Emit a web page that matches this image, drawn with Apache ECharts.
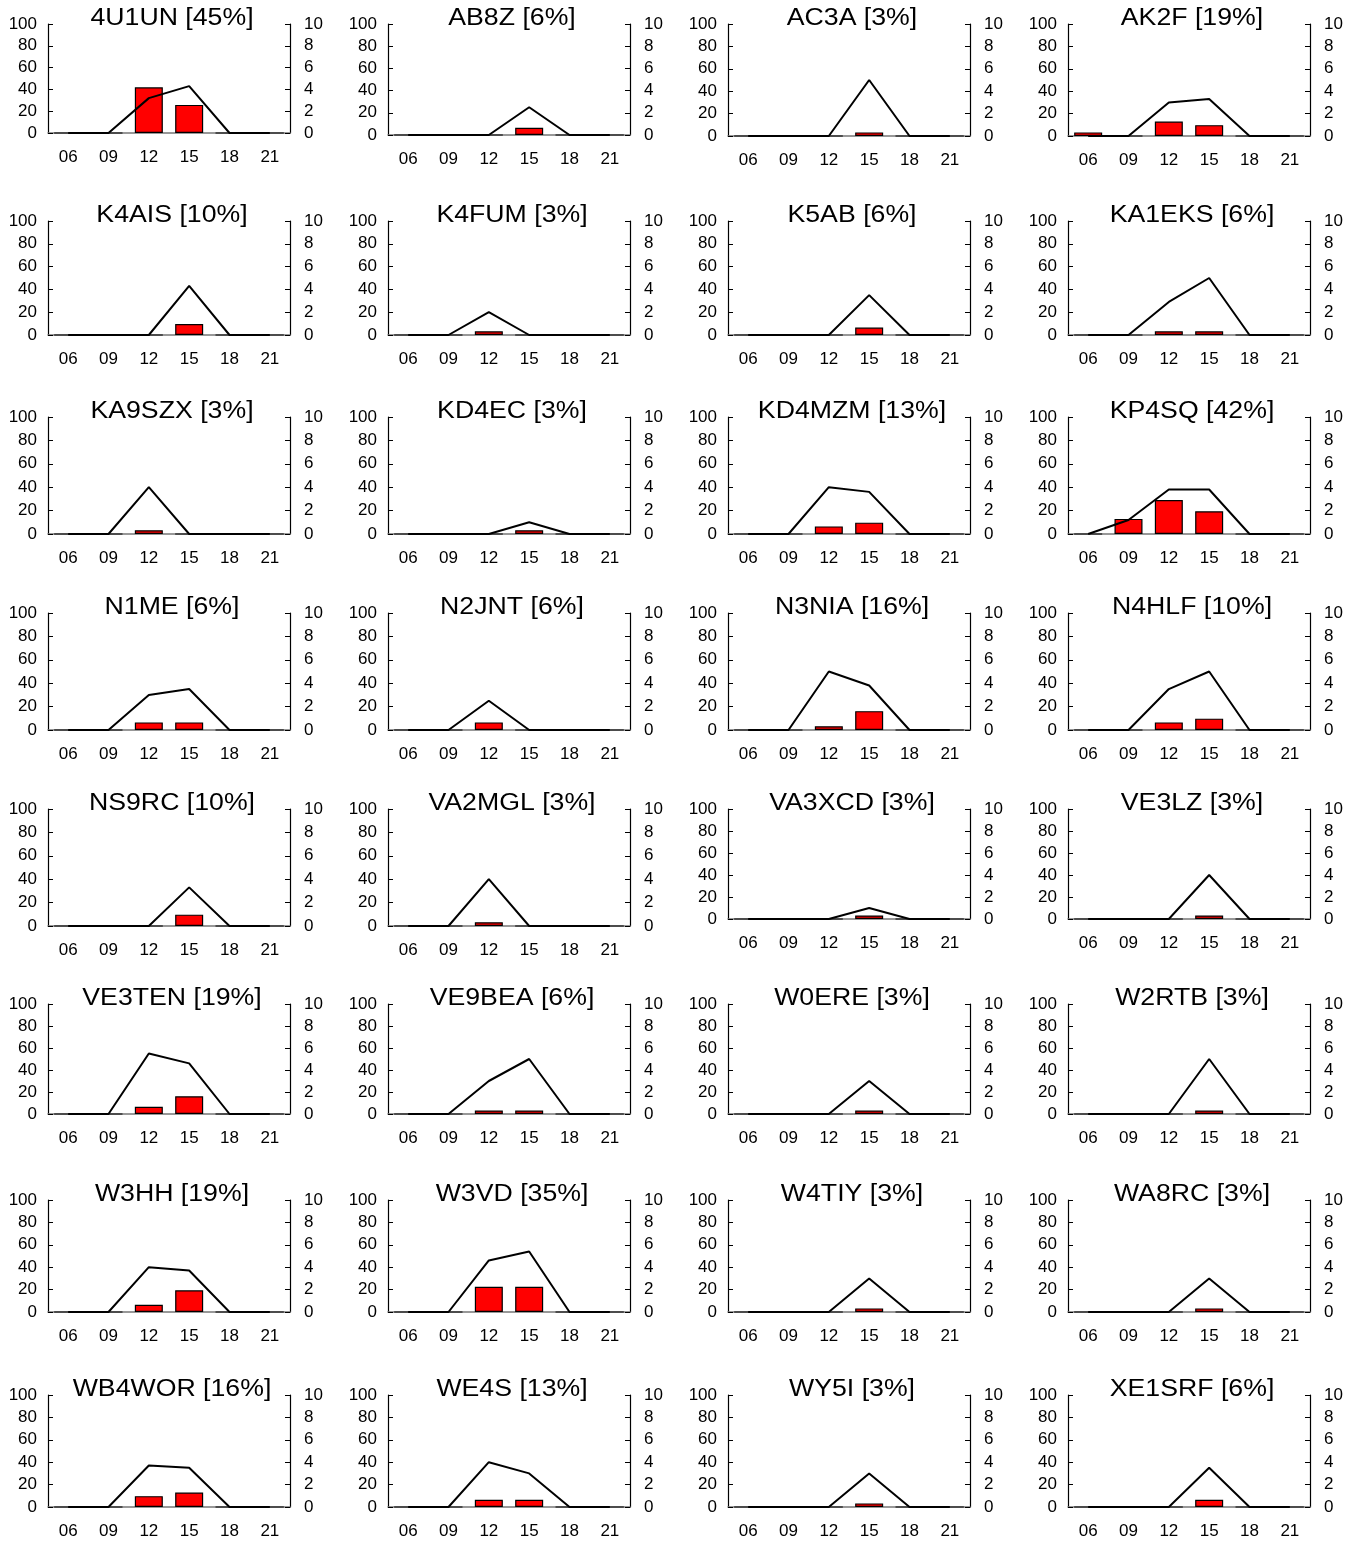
<!DOCTYPE html>
<html>
<head>
<meta charset="utf-8">
<script src="https://cdn.jsdelivr.net/npm/echarts@6/dist/echarts.min.js"></script>
<style>
html,body{margin:0;padding:0;background:#fff;}
#main{width:1361px;height:1542px;}
</style>
</head>
<body>
<div id="main"></div>
<script>
// ---- data ----
const hours = ['06', '09', '12', '15', '18', '21'];
const calls = ['4U1UN', 'AB8Z', 'AC3A', 'AK2F',
  'K4AIS', 'K4FUM', 'K5AB', 'KA1EKS',
  'KA9SZX', 'KD4EC', 'KD4MZM', 'KP4SQ',
  'N1ME', 'N2JNT', 'N3NIA', 'N4HLF',
  'NS9RC', 'VA2MGL', 'VA3XCD', 'VE3LZ',
  'VE3TEN', 'VE9BEA', 'W0ERE', 'W2RTB',
  'W3HH', 'W3VD', 'W4TIY', 'WA8RC',
  'WB4WOR', 'WE4S', 'WY5I', 'XE1SRF'];
const shares = ['45%', '6%', '3%', '19%',
  '10%', '3%', '6%', '6%',
  '3%', '3%', '13%', '42%',
  '6%', '6%', '16%', '10%',
  '10%', '3%', '3%', '3%',
  '19%', '6%', '3%', '3%',
  '19%', '35%', '3%', '3%',
  '16%', '13%', '3%', '6%'];
// red bars (left scale)
const barValues = [
  [0, 0, 41.9, 25.8, 0, 0], [0, 0, 0, 6.5, 0, 0], [0, 0, 0, 3.2, 0, 0], [3.2, 0, 12.9, 9.7, 0, 0],
  [0, 0, 0, 9.7, 0, 0], [0, 0, 3.2, 0, 0, 0], [0, 0, 0, 6.5, 0, 0], [0, 0, 3.2, 3.2, 0, 0],
  [0, 0, 3.2, 0, 0, 0], [0, 0, 0, 3.2, 0, 0], [0, 0, 6.5, 9.7, 0, 0], [0, 12.9, 29.0, 19.4, 0, 0],
  [0, 0, 6.5, 6.5, 0, 0], [0, 0, 6.5, 0, 0, 0], [0, 0, 3.2, 16.1, 0, 0], [0, 0, 6.5, 9.7, 0, 0],
  [0, 0, 0, 9.7, 0, 0], [0, 0, 3.2, 0, 0, 0], [0, 0, 0, 3.2, 0, 0], [0, 0, 0, 3.2, 0, 0],
  [0, 0, 6.5, 16.1, 0, 0], [0, 0, 3.2, 3.2, 0, 0], [0, 0, 0, 3.2, 0, 0], [0, 0, 0, 3.2, 0, 0],
  [0, 0, 6.5, 19.4, 0, 0], [0, 0, 22.6, 22.6, 0, 0], [0, 0, 0, 3.2, 0, 0], [0, 0, 0, 3.2, 0, 0],
  [0, 0, 9.7, 12.9, 0, 0], [0, 0, 6.5, 6.5, 0, 0], [0, 0, 0, 3.2, 0, 0], [0, 0, 0, 6.5, 0, 0]
];
// black line (left scale)
const lineValues = [
  [0, 0, 32, 43, 0, 0], [0, 0, 0, 25, 0, 0], [0, 0, 0, 50, 0, 0], [0, 0, 30, 33, 0, 0],
  [0, 0, 0, 43, 0, 0], [0, 0, 20, 0, 0, 0], [0, 0, 0, 35, 0, 0], [0, 0, 29, 50, 0, 0],
  [0, 0, 40, 0, 0, 0], [0, 0, 0, 10, 0, 0], [0, 0, 40, 36, 0, 0], [0, 12, 38, 38, 0, 0],
  [0, 0, 30, 35, 0, 0], [0, 0, 25, 0, 0, 0], [0, 0, 50, 38, 0, 0], [0, 0, 35, 50, 0, 0],
  [0, 0, 0, 33, 0, 0], [0, 0, 40, 0, 0, 0], [0, 0, 0, 10, 0, 0], [0, 0, 0, 40, 0, 0],
  [0, 0, 55, 46, 0, 0], [0, 0, 30, 50, 0, 0], [0, 0, 0, 30, 0, 0], [0, 0, 0, 50, 0, 0],
  [0, 0, 40, 37, 0, 0], [0, 0, 46, 54, 0, 0], [0, 0, 0, 30, 0, 0], [0, 0, 0, 30, 0, 0],
  [0, 0, 37, 35, 0, 0], [0, 0, 40, 30, 0, 0], [0, 0, 0, 30, 0, 0], [0, 0, 0, 35, 0, 0]
];
const leftAxisMax = 100, leftAxisStep = 20;
const rightAxisMax = 10, rightAxisStep = 2;

// ---- layout ----
const colLeft = [48, 388, 728, 1068];
const plotWidth = 242;
const rowTop = [24, 221, 417, 613, 809, 1004, 1200, 1395];
const rowBottom = [134, 335, 534, 730, 926, 1114, 1312, 1507];
const FONT = '"Liberation Sans", Arial, Helvetica, sans-serif';

const grids = [], xAxes = [], yAxes = [], series = [], graphics = [];
for (let i = 0; i < calls.length; i++) {
  const r = Math.floor(i / 4), c = i % 4;
  let bottom = rowBottom[r];
  if (r === 4 && c >= 2) bottom = 919;
  if (r === 0) bottom = [133, 135, 136, 136][c];
  const top = rowTop[r];
  grids.push({ left: colLeft[c], top: top, width: plotWidth, height: bottom - top, containLabel: false });
  graphics.push({
    type: 'text',
    x: colLeft[c] + plotWidth / 2 + 3,
    y: top - 5,
    scaleX: 1.16,
    scaleY: 1,
    silent: true,
    style: {
      text: calls[i] + ' [' + shares[i] + ']',
      x: 0, y: 0,
      textAlign: 'center',
      textVerticalAlign: 'middle',
      font: '23px ' + FONT,
      fill: '#000'
    }
  });
  xAxes.push({
    type: 'category', gridIndex: i, data: hours, boundaryGap: true,
    axisLine: { show: true, lineStyle: { color: '#777', width: 1.5 } },
    axisTick: { show: false },
    axisLabel: { fontFamily: FONT, fontSize: 17, color: '#000', margin: 16, interval: 0 },
    splitLine: { show: false }
  });
  yAxes.push({
    type: 'value', gridIndex: i, position: 'left', min: 0, max: leftAxisMax, interval: leftAxisStep,
    axisLine: { show: true, lineStyle: { color: '#000', width: 1.2 } },
    axisTick: { show: true, inside: true, length: 5, lineStyle: { color: '#000', width: 1 } },
    axisLabel: { fontFamily: FONT, fontSize: 17, color: '#000', margin: 11 },
    splitLine: { show: false }
  });
  yAxes.push({
    type: 'value', gridIndex: i, position: 'right', min: 0, max: rightAxisMax, interval: rightAxisStep,
    axisLine: { show: true, lineStyle: { color: '#000', width: 1.2 } },
    axisTick: { show: true, inside: true, length: 5, lineStyle: { color: '#000', width: 1 } },
    axisLabel: { fontFamily: FONT, fontSize: 17, color: '#000', margin: 14 },
    splitLine: { show: false }
  });
  series.push({
    type: 'bar', xAxisIndex: i, yAxisIndex: 2 * i, data: barValues[i], barWidth: 28,
    itemStyle: { color: '#ff0000', borderColor: '#000', borderWidth: 1.2 },
    silent: true, animation: false, z: 2
  });
  series.push({
    type: 'line', xAxisIndex: i, yAxisIndex: 2 * i, data: lineValues[i],
    symbol: 'none', lineStyle: { color: '#000', width: 2 },
    silent: true, animation: false, z: 3
  });
}

const chart = echarts.init(document.getElementById('main'), null, { renderer: 'canvas' });
chart.setOption({
  animation: false,
  backgroundColor: '#fff',
  grid: grids,
  xAxis: xAxes,
  yAxis: yAxes,
  series: series,
  graphic: { elements: graphics }
});
</script>
</body>
</html>
